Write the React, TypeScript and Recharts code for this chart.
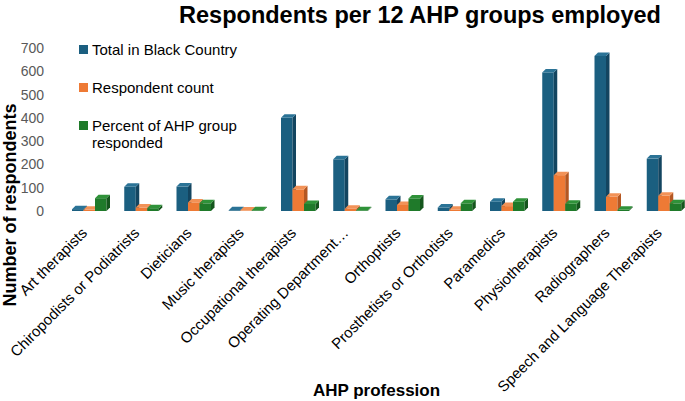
import React from "react";
import { BarChart, Bar, XAxis, YAxis, Legend, Label } from "recharts";

const categories = [
  "Art therapists",
  "Chiropodists or Podiatrists",
  "Dieticians",
  "Music therapists",
  "Occupational therapists",
  "Operating Department…",
  "Orthoptists",
  "Prosthetists or Orthotists",
  "Paramedics",
  "Physiotherapists",
  "Radiographers",
  "Speech and Language Therapists",
];

const seriesNames = ["Total in Black Country", "Respondent count", "Percent of AHP group responded"];

const totalInBlackCountry = [8, 104, 105, 3, 400, 222, 50, 15, 40, 595, 666, 225];
const respondentCount = [5, 15, 37, 2, 93, 10, 26, 5, 21, 154, 61, 65];
const percentResponded = [55, 12, 33, 3, 30, 3, 54, 33, 40, 31, 5, 33];

const yTicks = [0, 100, 200, 300, 400, 500, 600, 700];

const data = categories.map((name, i) => ({
  name,
  total: totalInBlackCountry[i],
  respondents: respondentCount[i],
  percent: percentResponded[i],
}));

const FONT = "'Liberation Sans', Arial, sans-serif";

// front face + darker side + lighter top, to mimic the 3D columns
const make3D = (side: string, top: string) => (props: any) => {
  const { x, y, width, height, fill } = props;
  const d = 3.5;
  const h = Math.max(height, 0);
  return (
    <g>
      <rect x={x} y={y} width={width} height={h} fill={fill} />
      <polygon
        points={`${x + width},${y} ${x + width + d},${y - d} ${x + width + d},${y + h - d} ${x + width},${y + h}`}
        fill={side}
      />
      <polygon
        points={`${x},${y} ${x + d},${y - d} ${x + width + d},${y - d} ${x + width},${y}`}
        fill={top}
      />
    </g>
  );
};

const XTick = (props: any) => {
  const { x, y, payload } = props;
  return (
    <g transform={`translate(${x - 1},${y + 23})`}>
      <text
        x={0}
        y={0}
        textAnchor="end"
        transform="rotate(-45)"
        fontFamily={FONT}
        fontSize={15}
        fill="#000"
      >
        {payload.value}
      </text>
    </g>
  );
};

const LegendBox = (props: any) => {
  const { payload } = props;
  const items = seriesNames
    .map((n) => (payload || []).find((p: any) => p.value === n))
    .filter(Boolean);
  return (
    <div style={{ fontFamily: FONT, fontSize: 15, lineHeight: "17px", color: "#000" }}>
      {items.map((p: any, i: number) => (
        <div key={i} style={{ display: "flex", alignItems: "flex-start", marginBottom: 21 }}>
          <span
            style={{
              display: "inline-block",
              width: 9,
              height: 9,
              background: p.color,
              marginTop: 4,
              marginRight: 4,
              flex: "none",
            }}
          />
          <span style={{ width: 158 }}>{p.value}</span>
        </div>
      ))}
    </div>
  );
};

export default function App() {
  return (
    <div
      style={{
        position: "absolute",
        left: 0,
        top: 0,
        width: 685,
        height: 401,
        overflow: "hidden",
        background: "#fff",
      }}
    >
      <div
        style={{
          position: "absolute",
          left: 0,
          top: 0,
          width: 840,
          textAlign: "center",
          fontFamily: FONT,
          fontWeight: "bold",
          fontSize: 23.5,
          lineHeight: "30px",
          color: "#000",
          whiteSpace: "nowrap",
        }}
      >
        Respondents per 12 AHP groups employed
      </div>
      <BarChart
        width={690}
        height={401}
        data={data}
        margin={{ top: 48, right: 0, bottom: 0, left: 0 }}
        barGap={0}
        barSize={11.5}
      >
        <XAxis
          dataKey="name"
          interval={0}
          height={190}
          axisLine={false}
          tickLine={false}
          tickSize={0}
          tickMargin={0}
          tick={<XTick />}
        >
          <Label
            value="AHP profession"
            position="insideBottom"
            offset={5}
            style={{ fontFamily: FONT, fontWeight: "bold", fontSize: 17, fill: "#000" }}
          />
        </XAxis>
        <YAxis
          width={63}
          domain={[0, 700]}
          ticks={yTicks}
          axisLine={false}
          tickLine={false}
          tickSize={0}
          tickMargin={19}
          tick={{ fontFamily: FONT, fontSize: 14, fill: "#595959" }}
          label={() => (
            <text
              x={16}
              y={205}
              transform="rotate(-90 16 205)"
              textAnchor="middle"
              fontFamily={FONT}
              fontWeight="bold"
              fontSize={18}
              fill="#000"
            >
              Number of respondents
            </text>
          )}
        />
        <Legend
          layout="vertical"
          align="center"
          verticalAlign="middle"
          wrapperStyle={{ left: 79, top: 41, width: 180 }}
          content={<LegendBox />}
        />
        <Bar
          dataKey="total"
          name={seriesNames[0]}
          fill="#1b5f80"
          shape={make3D("#134560", "#2b7396")}
          isAnimationActive={false}
        />
        <Bar
          dataKey="respondents"
          name={seriesNames[1]}
          fill="#ee7a35"
          shape={make3D("#b45722", "#f29257")}
          isAnimationActive={false}
        />
        <Bar
          dataKey="percent"
          name={seriesNames[2]}
          fill="#1f7a2a"
          shape={make3D("#15561d", "#2f9239")}
          isAnimationActive={false}
        />
      </BarChart>
    </div>
  );
}
